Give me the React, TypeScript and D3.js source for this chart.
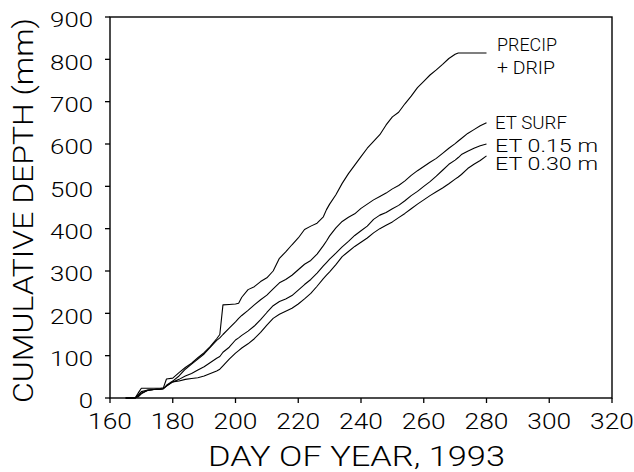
import React from "react";
import * as d3 from "d3";

const days = [165, 168, 169, 170, 172, 174, 176, 177, 178, 180, 182, 184, 186, 188, 190, 192, 194, 195, 196, 198, 200, 201, 202, 204, 206, 208, 210, 212, 214, 216, 218, 220, 222, 224, 226, 228, 229, 230, 232, 234, 236, 238, 240, 242, 244, 246, 248, 250, 252, 254, 256, 258, 260, 262, 264, 266, 268, 270, 271, 272, 274, 276, 278, 280];

const precipDrip = [0, 0, 12, 23, 23, 23, 23, 24, 45, 47, 60, 72, 82, 95, 107, 122, 140, 150, 220, 221, 222, 224, 238, 256, 263, 275, 284, 300, 330, 345, 362, 378, 398, 406, 413, 428, 445, 458, 480, 507, 530, 550, 570, 590, 606, 622, 645, 664, 675, 695, 713, 733, 748, 763, 775, 788, 802, 812, 815, 815, 815, 815, 815, 815];
const etSurf = [0, 0, 8, 15, 19, 20, 21, 22, 30, 40, 52, 68, 80, 92, 104, 120, 136, 142, 150, 165, 180, 188, 195, 207, 220, 232, 243, 258, 272, 280, 290, 303, 316, 325, 340, 360, 371, 383, 402, 417, 427, 435, 448, 458, 468, 476, 484, 494, 502, 513, 526, 537, 547, 557, 566, 578, 590, 601, 607, 613, 625, 634, 643, 650];
const et015 = [0, 0, 5, 12, 18, 20, 21, 22, 28, 38, 44, 52, 58, 66, 74, 84, 94, 98, 108, 120, 137, 142, 148, 158, 170, 185, 202, 218, 228, 234, 242, 255, 268, 280, 295, 312, 320, 328, 342, 357, 370, 384, 395, 406, 422, 432, 438, 447, 455, 466, 478, 488, 500, 511, 524, 538, 552, 562, 568, 575, 583, 590, 596, 600];
const et030 = [0, 0, 3, 10, 18, 20, 21, 22, 28, 38, 40, 44, 46, 48, 52, 58, 64, 68, 76, 92, 106, 112, 118, 128, 140, 155, 172, 188, 198, 205, 212, 222, 234, 247, 264, 282, 290, 298, 315, 334, 346, 358, 368, 378, 390, 400, 408, 416, 426, 436, 447, 458, 468, 478, 487, 496, 506, 517, 522, 528, 542, 552, 561, 572];

const seriesList = [precipDrip, etSurf, et015, et030];

const xTicks = [160, 180, 200, 220, 240, 260, 280, 300, 320];
const yTicks = [0, 100, 200, 300, 400, 500, 600, 700, 800, 900];

const lineLabels = ["PRECIP", "+ DRIP", "ET SURF", "ET 0.15 m", "ET 0.30 m"];

const W = 634;
const H = 472;
const L = 110, R = 612, T = 17, B = 398;
const FONT = "Roboto, 'DejaVu Sans', sans-serif";
const FW = 300;

export default function App() {
  const x = d3.scaleLinear().domain([160, 320]).range([L, R]);
  const y = d3.scaleLinear().domain([0, 900]).range([B, T]);
  const line = d3
    .line<number>()
    .x((_, i) => x(days[i]))
    .y((v) => y(v));

  const labelPos = [
    { x: 497, y: 51, w: 60 },
    { x: 497, y: 74, w: 58 },
    { x: 495, y: 129, w: 72 },
    { x: 495, y: 152, w: 103 },
    { x: 495, y: 170, w: 103 },
  ];

  return (
    <svg
      width={W}
      height={H}
      style={{ position: "absolute", left: 0, top: 0, background: "#fff" }}
    >
      <rect x={0} y={0} width={W} height={H} fill="#fff" />
      <rect x={L} y={T} width={R - L} height={B - T} fill="none" stroke="#000" strokeWidth={1.4} />
      {xTicks.map((t) => (
        <g key={"x" + t}>
          <line x1={x(t)} x2={x(t)} y1={B} y2={B + 5} stroke="#000" strokeWidth={1.3} />
          <text
            x={x(t)}
            y={429}
            textAnchor="middle"
            fontFamily={FONT}
            fontWeight={FW}
            fontSize={22}
            textLength={String(t).length * 14.6}
            lengthAdjust="spacingAndGlyphs"
          >
            {t}
          </text>
        </g>
      ))}
      {yTicks.map((t) => (
        <g key={"y" + t}>
          <line x1={L - 5} x2={L} y1={y(t)} y2={y(t)} stroke="#000" strokeWidth={1.3} />
          <text
            x={93}
            y={y(t) + 10.3}
            textAnchor="end"
            fontFamily={FONT}
            fontWeight={FW}
            fontSize={19.5}
            textLength={String(t).length * 14.3}
            lengthAdjust="spacingAndGlyphs"
          >
            {t}
          </text>
        </g>
      ))}
      {seriesList.map((s, i) => (
        <path key={"s" + i} d={line(s) || ""} fill="none" stroke="#000" strokeWidth={1.1} strokeLinejoin="round" />
      ))}
      {lineLabels.map((lab, i) => (
        <text
          key={"l" + i}
          x={labelPos[i].x}
          y={labelPos[i].y}
          fontFamily={FONT}
          fontWeight={FW}
          fontSize={19}
          textLength={labelPos[i].w}
          lengthAdjust="spacingAndGlyphs"
        >
          {lab}
        </text>
      ))}
      <text
        x={208}
        y={466}
        fontFamily={FONT}
        fontWeight={FW}
        fontSize={28}
        textLength={297}
        lengthAdjust="spacingAndGlyphs"
      >
        DAY OF YEAR,  1993
      </text>
      <text
        transform="translate(33,403) rotate(-90)"
        x={0}
        y={0}
        fontFamily={FONT}
        fontWeight={FW}
        fontSize={27.5}
        textLength={385}
        lengthAdjust="spacingAndGlyphs"
      >
        CUMULATIVE DEPTH (mm)
      </text>
    </svg>
  );
}
